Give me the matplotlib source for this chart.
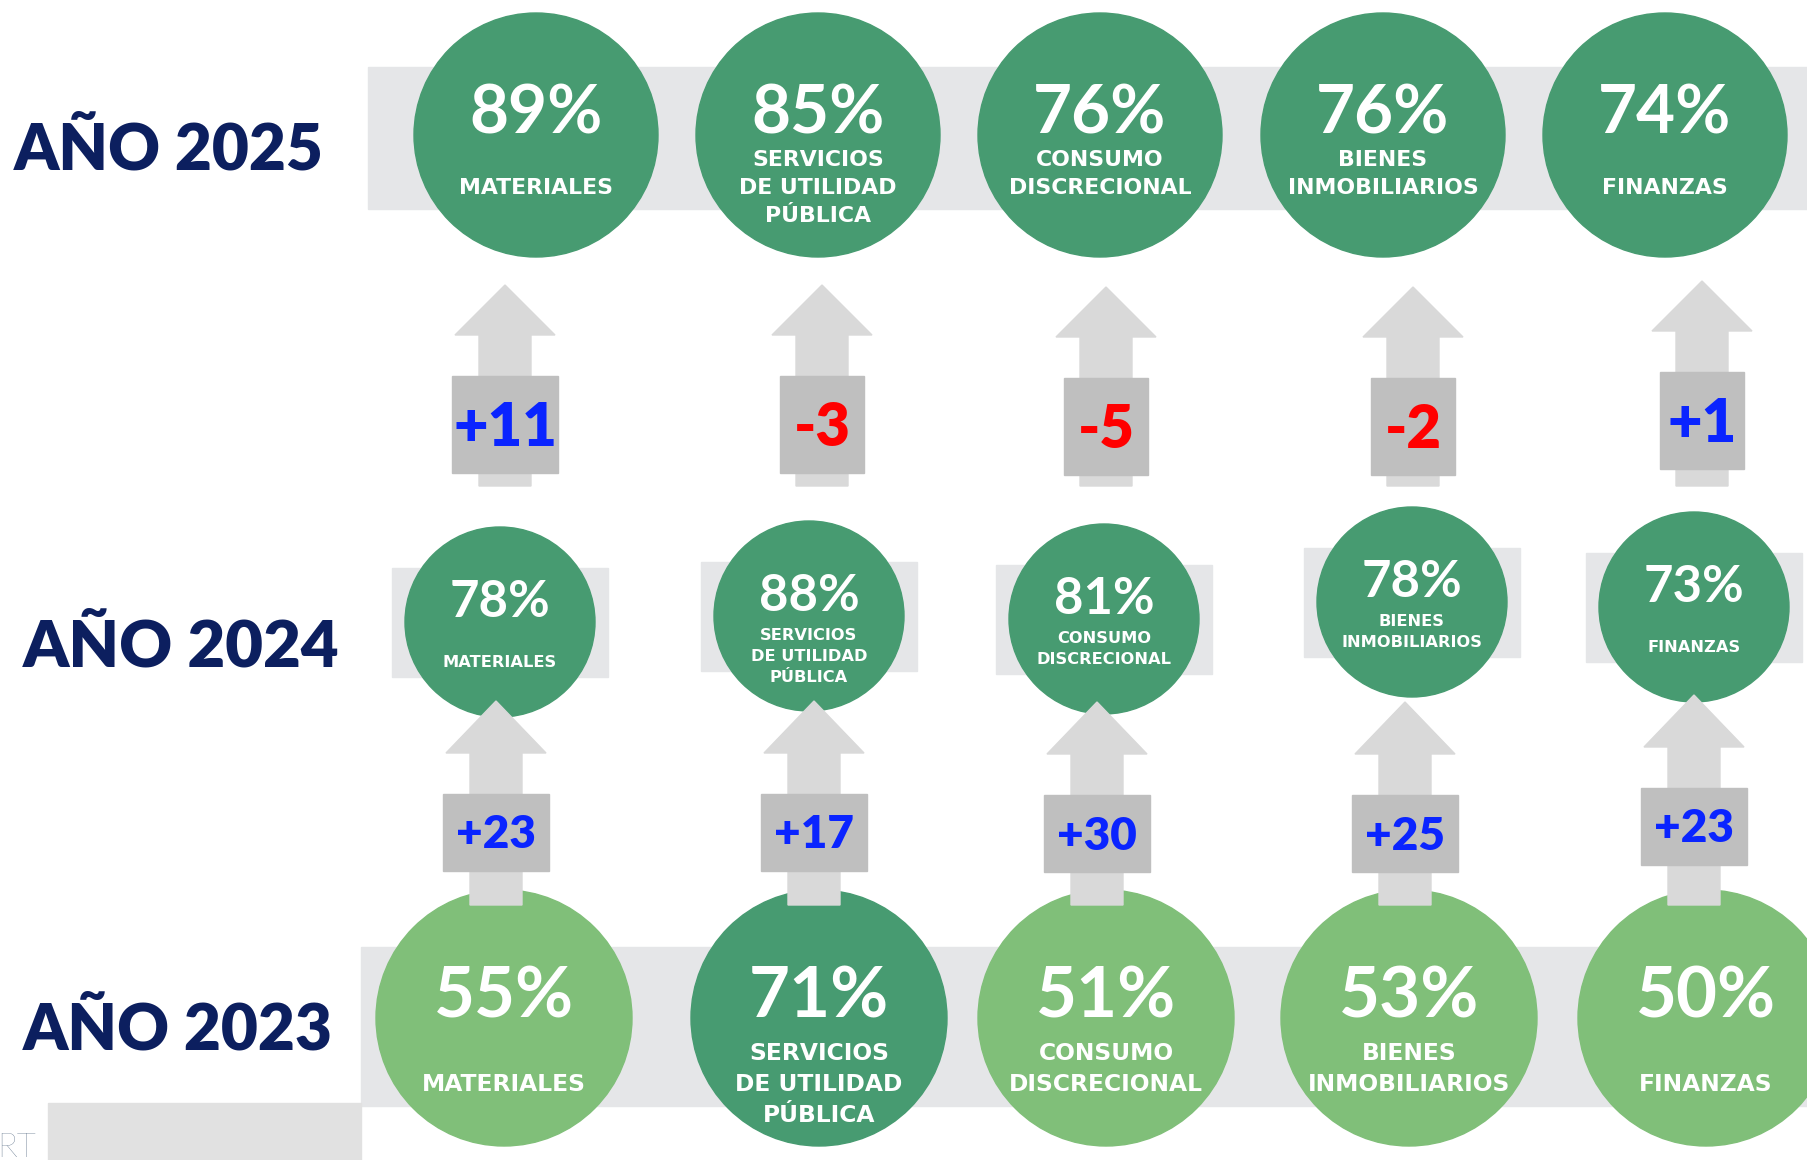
import numpy as np
import matplotlib.pyplot as plt
from matplotlib.patches import Circle, Rectangle, Polygon

# Datos
sectores = ["MATERIALES", "SERVICIOS\nDE UTILIDAD\nPÚBLICA", "CONSUMO\nDISCRECIONAL",
            "BIENES\nINMOBILIARIOS", "FINANZAS"]
v2023 = [55, 71, 51, 53, 50]
v2024 = [78, 88, 81, 78, 73]
v2025 = [89, 85, 76, 76, 74]
anios = ["AÑO 2025", "AÑO 2024", "AÑO 2023"]

# Diseño (pixeles)
W, H = 1807, 1160
x25, y25 = [536, 818, 1100, 1383, 1665], [135] * 5
x24, y24 = [500, 809, 1104, 1412, 1694], [622, 616, 619, 602, 607]
x23, y23 = [504, 819, 1106, 1409, 1706], [1018] * 5
xa, ya = [505, 822, 1106, 1413, 1702], [424, 424, 426, 426, 420]
xb, yb = [496, 814, 1097, 1405, 1694], [832, 832, 833, 833, 826]

verde = "#479b71"
verde_claro = "#80bf79"
banda = "#e5e6e8"
flecha = "#d9d9d9"
caja = "#bfbfbf"
azul_titulo = "#0c1f5f"

fig = plt.figure(figsize=(W / 100, H / 100), dpi=100)
ax = fig.add_axes([0, 0, 1, 1])
ax.set_xlim(0, W)
ax.set_ylim(H, 0)
ax.axis("off")

PX = 100 / 72


def texto(x, y, s, size, color="white", family="Lato", weight="bold", ha="center", z=10):
    # y = centro visual de las mayusculas
    ax.text(x, y + 0.36 * size * PX, s, fontsize=size, color=color, family=family,
            fontweight=weight, ha=ha, va="baseline", zorder=z)


# bandas grises
ax.add_patch(Rectangle((368, 67), W - 368, 142, color=banda, zorder=1))
ax.add_patch(Rectangle((361, 947), W - 361, 159, color=banda, zorder=1))
ax.add_patch(Rectangle((48, 1103), 313, 57, color="#e1e1e1", zorder=1))
for x, y in zip(x24, y24):
    ax.add_patch(Rectangle((x - 108, y - 54), 216, 109, color=banda, zorder=1))


def circulos(xs, ys, vals, r, pct_size, dpct, dline, paso, lab_size, claro=False):
    for x, y, v, lab in zip(xs, ys, vals, sectores):
        col = verde if (not claro or v >= 70) else verde_claro
        ax.add_patch(Circle((x, y), r, color=col, zorder=3))
        texto(x, y + dpct, f"{v}%", pct_size)
        lineas = lab.split("\n")
        i0 = 0 if len(lineas) > 1 else 1
        for i, l in enumerate(lineas):
            texto(x, y + dline + (i0 + i) * paso, l, lab_size, family="DejaVu Sans")


circulos(x25, y25, v2025, 122, 48.5, -26, 23, 28, 15.8)
circulos(x24, y24, v2024, 95, 36.5, -23, 18, 21, 11.7)
circulos(x23, y23, v2023, 128, 51, -26, 34, 31, 16.8, claro=True)


def flechas(xs, yc, antes, despues, tip, base, fondo, bh, size):
    for x, y, a, d in zip(xs, yc, antes, despues):
        t = tip - (yc[0] - y)
        pts = [(x - 26, fondo), (x - 26, t + base), (x - 50, t + base), (x, t),
               (x + 50, t + base), (x + 26, t + base), (x + 26, fondo)]
        ax.add_patch(Polygon(pts, closed=True, color=flecha, zorder=5))
        dif = d - a
        lab = f"{dif:+d}"
        bw = 40 + 22 * len(lab)
        ax.add_patch(Rectangle((x - bw / 2, y - bh / 2), bw, bh, color=caja, zorder=6))
        texto(x, y, lab, size, color="#0a24ff" if dif > 0 else "#ff0000", weight="heavy")


flechas(xa, ya, v2024, v2025, 285, 50, 486, 97, 43)
flechas(xb, yb, v2023, v2024, 701, 52, 905, 77, 33)

# titulos de fila
texto(14, 146, anios[0], 46, color=azul_titulo, ha="left", weight="heavy")
texto(23, 643, anios[1], 47, color=azul_titulo, ha="left", weight="heavy")
texto(23, 1026, anios[2], 46, color=azul_titulo, ha="left", weight="heavy")
texto(-3, 1145, "RT", 24, color="#5a6e86", ha="left", weight="light")

fig.savefig("out.png", dpi=100, facecolor="white")
